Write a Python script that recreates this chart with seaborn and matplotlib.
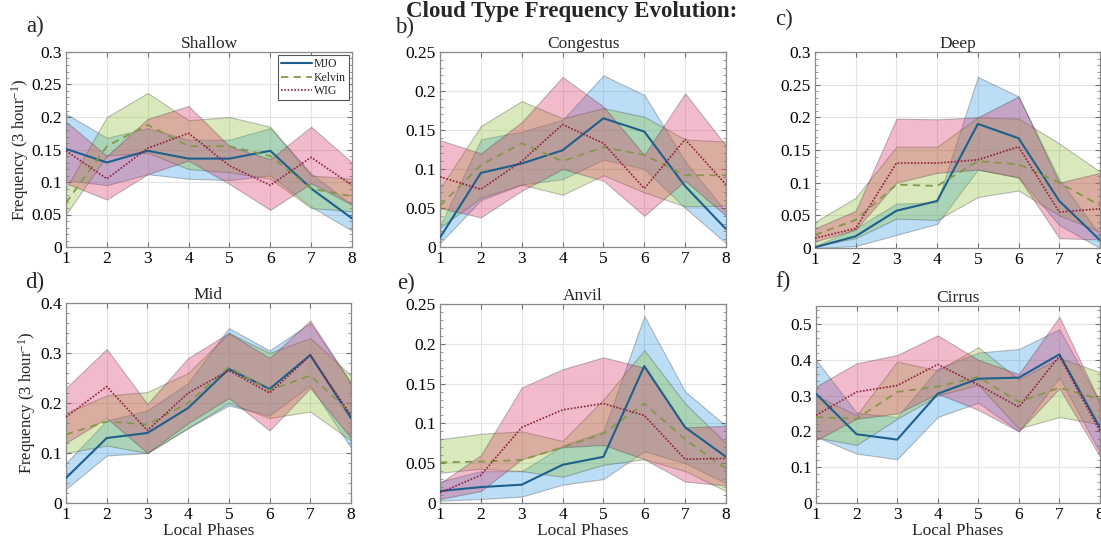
import matplotlib
matplotlib.use("Agg")
import numpy as np
import pandas as pd
import matplotlib.pyplot as plt
import seaborn as sns
from matplotlib.ticker import MultipleLocator, AutoMinorLocator, FuncFormatter

# ---------------------------------------------------------------------------
# Data: composite frequency (mean) with lower / upper bounds per local phase
# ---------------------------------------------------------------------------
PHASES = [1, 2, 3, 4, 5, 6, 7, 8]
WAVES = ["MJO", "Kelvin", "WIG"]
CLOUD_TYPES = ["Shallow", "Congestus", "Deep", "Mid", "Anvil", "Cirrus"]
PANEL_LETTERS = ["a)", "b)", "c)", "d)", "e)", "f)"]
Y_MAX = [0.3, 0.25, 0.3, 0.4, 0.25, 0.55]
Y_STEP = [0.05, 0.05, 0.05, 0.1, 0.05, 0.1]

# Shallow
SHALLOW_MJO = [0.151, 0.130, 0.148, 0.136, 0.136, 0.148, 0.090, 0.044]
SHALLOW_MJO_LO = [0.103, 0.095, 0.112, 0.105, 0.103, 0.110, 0.062, 0.025]
SHALLOW_MJO_HI = [0.205, 0.168, 0.183, 0.165, 0.165, 0.183, 0.113, 0.065]
SHALLOW_KELVIN = [0.068, 0.155, 0.188, 0.155, 0.155, 0.140, 0.090, 0.078]
SHALLOW_KELVIN_LO = [0.050, 0.141, 0.145, 0.120, 0.115, 0.105, 0.060, 0.055]
SHALLOW_KELVIN_HI = [0.090, 0.200, 0.237, 0.195, 0.200, 0.185, 0.110, 0.105]
SHALLOW_WIG = [0.148, 0.105, 0.152, 0.175, 0.125, 0.095, 0.138, 0.095]
SHALLOW_WIG_LO = [0.098, 0.073, 0.112, 0.133, 0.097, 0.057, 0.098, 0.065]
SHALLOW_WIG_HI = [0.193, 0.140, 0.197, 0.217, 0.155, 0.135, 0.185, 0.130]

# Congestus
CONGESTUS_MJO = [0.012, 0.095, 0.107, 0.124, 0.165, 0.148, 0.078, 0.023]
CONGESTUS_MJO_LO = [0.005, 0.060, 0.080, 0.087, 0.112, 0.100, 0.050, 0.005]
CONGESTUS_MJO_HI = [0.027, 0.138, 0.148, 0.163, 0.220, 0.195, 0.110, 0.045]
CONGESTUS_KELVIN = [0.053, 0.105, 0.133, 0.110, 0.128, 0.118, 0.092, 0.092]
CONGESTUS_KELVIN_LO = [0.025, 0.063, 0.080, 0.067, 0.092, 0.070, 0.052, 0.053]
CONGESTUS_KELVIN_HI = [0.075, 0.155, 0.187, 0.165, 0.178, 0.167, 0.138, 0.135]
CONGESTUS_WIG = [0.090, 0.074, 0.110, 0.157, 0.133, 0.075, 0.138, 0.080]
CONGESTUS_WIG_LO = [0.050, 0.038, 0.072, 0.100, 0.085, 0.040, 0.085, 0.040]
CONGESTUS_WIG_HI = [0.137, 0.120, 0.160, 0.218, 0.180, 0.118, 0.197, 0.130]

# Deep
DEEP_MJO = [0.001, 0.018, 0.057, 0.072, 0.190, 0.168, 0.072, 0.012]
DEEP_MJO_LO = [0.000, 0.003, 0.020, 0.037, 0.120, 0.108, 0.035, 0.000]
DEEP_MJO_HI = [0.003, 0.030, 0.068, 0.070, 0.262, 0.232, 0.105, 0.020]
DEEP_KELVIN = [0.020, 0.043, 0.097, 0.095, 0.133, 0.128, 0.100, 0.065]
DEEP_KELVIN_LO = [0.003, 0.015, 0.045, 0.043, 0.078, 0.088, 0.050, 0.025]
DEEP_KELVIN_HI = [0.040, 0.077, 0.155, 0.155, 0.200, 0.198, 0.160, 0.117]
DEEP_WIG = [0.015, 0.030, 0.130, 0.130, 0.135, 0.155, 0.055, 0.060]
DEEP_WIG_LO = [0.010, 0.028, 0.100, 0.115, 0.120, 0.108, 0.015, 0.013]
DEEP_WIG_HI = [0.030, 0.057, 0.198, 0.197, 0.200, 0.232, 0.100, 0.115]

# Mid
MID_MJO = [0.050, 0.130, 0.140, 0.190, 0.268, 0.228, 0.296, 0.170]
MID_MJO_LO = [0.028, 0.095, 0.100, 0.150, 0.195, 0.175, 0.235, 0.110]
MID_MJO_HI = [0.080, 0.165, 0.185, 0.240, 0.350, 0.305, 0.360, 0.240]
MID_KELVIN = [0.137, 0.163, 0.157, 0.200, 0.272, 0.225, 0.255, 0.180]
MID_KELVIN_LO = [0.100, 0.115, 0.100, 0.150, 0.200, 0.170, 0.183, 0.125]
MID_KELVIN_HI = [0.180, 0.215, 0.222, 0.260, 0.340, 0.300, 0.330, 0.255]
MID_WIG = [0.172, 0.233, 0.145, 0.220, 0.265, 0.220, 0.295, 0.175]
MID_WIG_LO = [0.120, 0.170, 0.100, 0.160, 0.210, 0.145, 0.230, 0.130]
MID_WIG_HI = [0.230, 0.308, 0.198, 0.290, 0.340, 0.290, 0.365, 0.240]

# Anvil
ANVIL_MJO = [0.015, 0.020, 0.023, 0.048, 0.058, 0.172, 0.095, 0.058]
ANVIL_MJO_LO = [0.003, 0.005, 0.008, 0.023, 0.030, 0.065, 0.050, 0.025]
ANVIL_MJO_HI = [0.027, 0.040, 0.040, 0.072, 0.090, 0.235, 0.140, 0.097]
ANVIL_KELVIN = [0.051, 0.052, 0.054, 0.070, 0.087, 0.125, 0.080, 0.043]
ANVIL_KELVIN_LO = [0.038, 0.043, 0.040, 0.033, 0.048, 0.055, 0.040, 0.015]
ANVIL_KELVIN_HI = [0.080, 0.087, 0.090, 0.078, 0.130, 0.192, 0.125, 0.075]
ANVIL_WIG = [0.013, 0.035, 0.095, 0.117, 0.125, 0.110, 0.055, 0.056]
ANVIL_WIG_LO = [0.005, 0.015, 0.055, 0.070, 0.073, 0.055, 0.027, 0.022]
ANVIL_WIG_HI = [0.025, 0.060, 0.145, 0.168, 0.183, 0.170, 0.095, 0.097]

# Cirrus
CIRRUS_MJO = [0.305, 0.192, 0.177, 0.305, 0.347, 0.350, 0.415, 0.210]
CIRRUS_MJO_LO = [0.185, 0.138, 0.122, 0.240, 0.280, 0.200, 0.350, 0.140]
CIRRUS_MJO_HI = [0.400, 0.252, 0.240, 0.375, 0.420, 0.430, 0.485, 0.280]
CIRRUS_KELVIN = [0.240, 0.235, 0.310, 0.325, 0.352, 0.282, 0.322, 0.290]
CIRRUS_KELVIN_LO = [0.183, 0.162, 0.235, 0.300, 0.330, 0.208, 0.240, 0.220]
CIRRUS_KELVIN_HI = [0.300, 0.245, 0.395, 0.370, 0.435, 0.345, 0.405, 0.365]
CIRRUS_WIG = [0.245, 0.310, 0.328, 0.387, 0.330, 0.268, 0.410, 0.200]
CIRRUS_WIG_LO = [0.175, 0.235, 0.250, 0.305, 0.260, 0.200, 0.320, 0.130]
CIRRUS_WIG_HI = [0.325, 0.390, 0.413, 0.468, 0.400, 0.360, 0.520, 0.280]

SERIES = {
    "Shallow": [(SHALLOW_MJO, SHALLOW_MJO_LO, SHALLOW_MJO_HI),
                (SHALLOW_KELVIN, SHALLOW_KELVIN_LO, SHALLOW_KELVIN_HI),
                (SHALLOW_WIG, SHALLOW_WIG_LO, SHALLOW_WIG_HI)],
    "Congestus": [(CONGESTUS_MJO, CONGESTUS_MJO_LO, CONGESTUS_MJO_HI),
                  (CONGESTUS_KELVIN, CONGESTUS_KELVIN_LO, CONGESTUS_KELVIN_HI),
                  (CONGESTUS_WIG, CONGESTUS_WIG_LO, CONGESTUS_WIG_HI)],
    "Deep": [(DEEP_MJO, DEEP_MJO_LO, DEEP_MJO_HI),
             (DEEP_KELVIN, DEEP_KELVIN_LO, DEEP_KELVIN_HI),
             (DEEP_WIG, DEEP_WIG_LO, DEEP_WIG_HI)],
    "Mid": [(MID_MJO, MID_MJO_LO, MID_MJO_HI),
            (MID_KELVIN, MID_KELVIN_LO, MID_KELVIN_HI),
            (MID_WIG, MID_WIG_LO, MID_WIG_HI)],
    "Anvil": [(ANVIL_MJO, ANVIL_MJO_LO, ANVIL_MJO_HI),
              (ANVIL_KELVIN, ANVIL_KELVIN_LO, ANVIL_KELVIN_HI),
              (ANVIL_WIG, ANVIL_WIG_LO, ANVIL_WIG_HI)],
    "Cirrus": [(CIRRUS_MJO, CIRRUS_MJO_LO, CIRRUS_MJO_HI),
               (CIRRUS_KELVIN, CIRRUS_KELVIN_LO, CIRRUS_KELVIN_HI),
               (CIRRUS_WIG, CIRRUS_WIG_LO, CIRRUS_WIG_HI)],
}

# ---------------------------------------------------------------------------
# Styling
# ---------------------------------------------------------------------------
LINE_COLORS = {"MJO": "#1f5f8b", "Kelvin": "#86964a", "WIG": "#8e1f40"}
FILL_COLORS = {"MJO": (0.20, 0.60, 0.90), "Kelvin": (0.55, 0.75, 0.20),
               "WIG": (0.85, 0.20, 0.40)}
DASHES = {"MJO": "", "Kelvin": (4, 3), "WIG": (1, 1)}
LINE_WIDTHS = {"MJO": 1.5, "Kelvin": 1.3, "WIG": 1.2}
YLABEL_X = {0: -0.162, 3: -0.135}

sns.set_theme(style="whitegrid")
plt.rcParams["font.family"] = ["Liberation Serif", "DejaVu Serif"]
plt.rcParams["mathtext.fontset"] = "custom"
plt.rcParams["mathtext.rm"] = "Liberation Serif"
plt.rcParams["mathtext.it"] = "Liberation Serif:italic"

fig = plt.figure(figsize=(11.01, 5.47), dpi=100)
W, H = 1101.0, 547.0

# axes boxes in pixels: (left, top, right, bottom)
BOXES = [(66, 52, 352, 247), (440, 52, 726, 247), (815, 52, 1100, 248),
         (66, 303, 351, 503), (440, 304, 726, 503), (816, 306, 1100, 503)]
LETTER_POS = [(26, 26), (395, 27), (775, 19), (25, 282), (397, 283), (775, 281)]

fmt = FuncFormatter(lambda v, _: "0" if abs(v) < 1e-9 else f"{v:g}")

for i, name in enumerate(CLOUD_TYPES):
    l, t, r, b = BOXES[i]
    ax = fig.add_axes([l / W, 1 - b / H, (r - l) / W, (b - t) / H])

    rows = []
    for wave, (mean, lo, hi) in zip(WAVES, SERIES[name]):
        for p, m in zip(PHASES, mean):
            rows.append({"phase": p, "freq": m, "wave": wave})
        ax.fill_between(PHASES, lo, hi, facecolor=FILL_COLORS[wave], alpha=0.33,
                        edgecolor=(0.25, 0.25, 0.25, 0.55), linewidth=0.8,
                        zorder=2)
    df = pd.DataFrame(rows)
    sns.lineplot(data=df, x="phase", y="freq", hue="wave", style="wave",
                 hue_order=WAVES, style_order=WAVES, palette=LINE_COLORS,
                 dashes=DASHES, legend=False, ax=ax, zorder=3)
    for line, wave in zip(ax.lines, WAVES):
        line.set_linewidth(LINE_WIDTHS[wave])

    ax.set_xlim(1, 8)
    ax.set_ylim(0, Y_MAX[i])
    ax.xaxis.set_major_locator(MultipleLocator(1))
    ax.yaxis.set_major_locator(MultipleLocator(Y_STEP[i]))
    ax.yaxis.set_minor_locator(AutoMinorLocator(5))
    ax.yaxis.set_major_formatter(fmt)
    ax.set_facecolor("white")
    ax.grid(True, which="major", color="#e3e3e3", linewidth=0.8)
    ax.grid(False, which="minor")
    for sp in ax.spines.values():
        sp.set_color("#8a8a8a")
        sp.set_linewidth(0.9)
    ax.tick_params(axis="both", which="major", direction="in", length=3.5,
                   width=0.8, color="#707070", top=True, right=True,
                   labelsize=12.5, labelcolor="black", pad=3,
                   bottom=True, left=True)
    ax.tick_params(axis="y", which="minor", direction="in", length=2,
                   width=0.6, color="#8a8a8a", left=True, right=True)

    ax.set_title(name, fontsize=12.5, pad=3)
    ax.set_xlabel("Local Phases" if i >= 3 else "", fontsize=12.5, labelpad=0)
    if i in YLABEL_X:
        ax.set_ylabel("Frequency (3 hour$^{-1}$)", fontsize=12, va="center")
        ax.yaxis.set_label_coords(YLABEL_X[i], 0.5)
    else:
        ax.set_ylabel("")

    lx, ly = LETTER_POS[i]
    fig.text(lx / W, 1 - ly / H, PANEL_LETTERS[i], fontsize=16.5,
             ha="left", va="center")

    if i == 0:
        leg = ax.legend(ax.lines[:3], WAVES, loc="upper right", fontsize=8.5,
                        frameon=True, fancybox=False, framealpha=1,
                        edgecolor="#555555", handlelength=2.6,
                        handletextpad=0.2, borderpad=0.25,
                        borderaxespad=0.25, labelspacing=0.15)
        leg.get_frame().set_linewidth(0.8)

fig.text(572 / W, 1 - 11 / H, "Cloud Type Frequency Evolution:",
         fontsize=16.5, fontweight="bold", ha="center", va="center")

fig.savefig("out.png", dpi=100)
